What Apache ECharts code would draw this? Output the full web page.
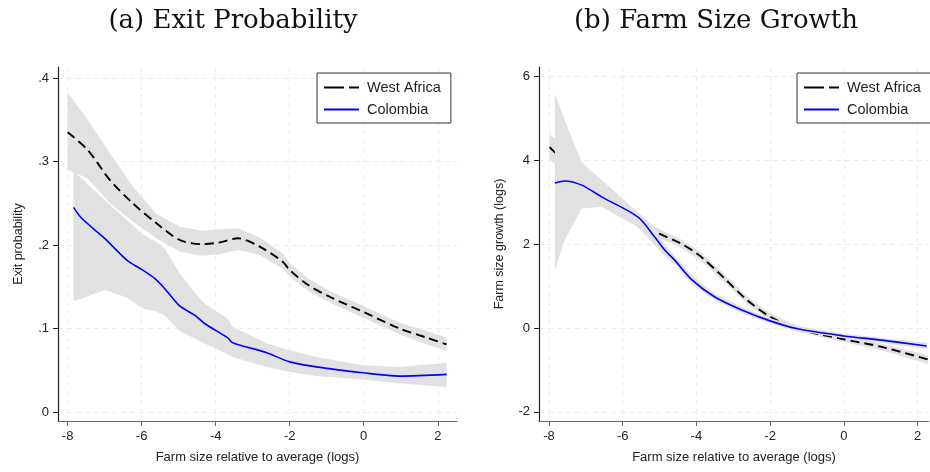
<!DOCTYPE html>
<html>
<head>
<meta charset="utf-8">
<script src="https://cdn.jsdelivr.net/npm/echarts@6/dist/echarts.min.js"></script>
<style>
  html, body { margin: 0; padding: 0; background: #fff; }
  #chart { width: 930px; height: 472px; }
</style>
</head>
<body>
<div id="chart"></div>
<script>
// ticks
const xTicks = [-8, -6, -4, -2, 0, 2]
const exitTicks = [0, 0.1, 0.2, 0.3, 0.4]
const exitTickLabels = ['0', '.1', '.2', '.3', '.4']
const growthTicks = [-2, 0, 2, 4, 6]

// (a) exit probability - West Africa
const exitWaX = [-8.0, -7.46, -6.86, -6.24, -5.6, -4.97, -4.35, -3.9, -3.4, -2.81, -2.19, -2.0, -1.5, -0.92, 0.08, 0.97, 1.7, 2.24]
const exitWaY = [0.335, 0.314, 0.278, 0.250, 0.226, 0.206, 0.201, 0.203, 0.208, 0.198, 0.180, 0.170, 0.152, 0.138, 0.118, 0.100, 0.089, 0.081]
const exitWaHi = [0.383, 0.350, 0.310, 0.270, 0.237, 0.222, 0.217, 0.219, 0.220, 0.209, 0.190, 0.178, 0.160, 0.145, 0.125, 0.107, 0.097, 0.089]
const exitWaLo = [0.290, 0.280, 0.250, 0.228, 0.208, 0.192, 0.187, 0.189, 0.194, 0.188, 0.172, 0.162, 0.145, 0.131, 0.111, 0.093, 0.081, 0.073]

// (a) exit probability - Colombia
const exitCoX = [-7.84, -7.62, -7.0, -6.4, -5.97, -5.65, -5.38, -4.97, -4.57, -4.3, -3.68, -3.54, -2.62, -2.0, -1.27, -0.03, 0.97, 2.24]
const exitCoY = [0.245, 0.232, 0.208, 0.182, 0.170, 0.160, 0.148, 0.127, 0.116, 0.106, 0.089, 0.083, 0.071, 0.060, 0.054, 0.047, 0.043, 0.045]
const exitCoHi = [0.288, 0.280, 0.254, 0.230, 0.213, 0.205, 0.196, 0.166, 0.143, 0.130, 0.112, 0.102, 0.082, 0.074, 0.066, 0.056, 0.054, 0.059]
const exitCoLo = [0.133, 0.136, 0.146, 0.137, 0.124, 0.121, 0.116, 0.097, 0.088, 0.082, 0.069, 0.066, 0.054, 0.048, 0.043, 0.039, 0.034, 0.030]

// (b) farm size growth - West Africa
const growWaX = [-7.98, -7.87, -7.5, -7.0, -6.5, -6.0, -5.5, -5.05, -4.45, -3.93, -3.28, -2.63, -2.0, -1.25, 0, 1.02, 2.28]
const growWaY = [4.32, 4.22, 3.95, 3.6, 3.2, 2.85, 2.5, 2.27, 2.03, 1.74, 1.22, 0.67, 0.27, -0.02, -0.27, -0.45, -0.75]
const growWaHi = [4.62, 4.55, 4.2, 3.8, 3.4, 3.0, 2.62, 2.38, 2.13, 1.84, 1.32, 0.76, 0.35, 0.05, -0.20, -0.37, -0.65]
const growWaLo = [4.02, 3.95, 3.7, 3.4, 3.0, 2.7, 2.38, 2.16, 1.93, 1.64, 1.12, 0.58, 0.19, -0.09, -0.34, -0.53, -0.86]

// (b) farm size growth - Colombia
const growCoX = [-7.84, -7.57, -7.11, -6.57, -5.59, -5.13, -4.86, -4.59, -4.12, -3.5, -2.77, -2.0, -1.25, 0, 1.02, 2.25]
const growCoY = [3.46, 3.51, 3.41, 3.13, 2.65, 2.17, 1.86, 1.62, 1.15, 0.74, 0.43, 0.17, -0.02, -0.19, -0.29, -0.43]
const growCoHi = [5.6, 4.96, 3.95, 3.53, 2.77, 2.39, 2.0, 1.72, 1.25, 0.82, 0.5, 0.23, 0.04, -0.14, -0.23, -0.35]
const growCoLo = [1.38, 2.1, 2.85, 2.89, 2.41, 1.98, 1.72, 1.52, 1.05, 0.66, 0.36, 0.11, -0.08, -0.24, -0.35, -0.51]

const sans = 'Liberation Sans'
const bandColor = '#e1e1e1'

const chart = echarts.init(document.getElementById('chart'), null, { renderer: 'canvas' })

function zip(xs, ys) {
  return xs.map((x, i) => [x, ys[i]])
}

function band(name, xs, lo, hi, idx, z) {
  const data = xs.map((x, i) => [x, lo[i], hi[i]])
  return {
    type: 'custom',
    name: name,
    xAxisIndex: idx,
    yAxisIndex: idx,
    z: z,
    silent: true,
    data: data,
    encode: { x: 0, y: [1, 2] },
    renderItem: function(params, api) {
      if (params.dataIndex !== 0) return null
      const pts = []
      data.forEach(d => pts.push(api.coord([d[0], d[2]])))
      for (let i = data.length - 1; i >= 0; i--) pts.push(api.coord([data[i][0], data[i][1]]))
      return { type: 'polygon', shape: { points: pts }, style: { fill: bandColor } }
    }
  }
}

function line(name, xs, ys, idx, z, color, dash) {
  return {
    type: 'line',
    name: name,
    xAxisIndex: idx,
    yAxisIndex: idx,
    z: z,
    data: zip(xs, ys),
    symbol: 'none',
    smooth: 0.3,
    silent: true,
    itemStyle: { color: color },
    lineStyle: { color: color, width: dash ? 1.9 : 1.6, type: dash || 'solid' }
  }
}

function xAxis(idx, min, max) {
  return {
    gridIndex: idx,
    type: 'value',
    min: min,
    max: max,
    name: 'Farm size relative to average (logs)',
    nameLocation: 'middle',
    nameGap: 30,
    nameTextStyle: { fontFamily: sans, fontSize: 13, color: '#222' },
    axisLine: { show: true, onZero: false, lineStyle: { color: '#666', width: 1.2 } },
    axisTick: { show: true, customValues: xTicks, length: 5, lineStyle: { color: '#666' } },
    axisLabel: { customValues: xTicks, margin: 9, fontFamily: sans, fontSize: 13, color: '#222' },
    splitLine: { show: true, lineStyle: { color: '#ececec', width: 1, type: [5, 4] } }
  }
}

function yAxis(idx, min, max, ticks, labels, name, gap) {
  return {
    gridIndex: idx,
    type: 'value',
    min: min,
    max: max,
    name: name,
    nameLocation: 'middle',
    nameGap: gap,
    nameRotate: 90,
    nameTextStyle: { fontFamily: sans, fontSize: 12.5, color: '#222' },
    axisLine: { show: true, onZero: false, lineStyle: { color: '#222', width: 1.2 } },
    axisTick: { show: true, customValues: ticks, length: 5, lineStyle: { color: '#222' } },
    axisLabel: {
      customValues: ticks,
      margin: 9,
      fontFamily: sans,
      fontSize: 13,
      color: '#222',
      formatter: function(v) {
        const i = ticks.findIndex(t => Math.abs(t - v) < 1e-9)
        return i >= 0 ? labels[i] : ''
      }
    },
    splitLine: { show: true, lineStyle: { color: '#ececec', width: 1, type: [5, 4] } }
  }
}

function legend(left) {
  return {
    left: left,
    top: 73,
    orient: 'vertical',
    backgroundColor: '#fff',
    borderColor: '#333',
    borderWidth: 1,
    borderRadius: 0,
    padding: [7, 10, 6, 6],
    itemGap: 7,
    itemWidth: 35,
    itemHeight: 14,
    selectedMode: false,
    itemStyle: { opacity: 0 },
    textStyle: { fontFamily: sans, fontSize: 14.5, color: '#222', padding: [0, 0, 0, 3] },
    data: [
      { name: 'West Africa', lineStyle: { type: [20, 5] } },
      { name: 'Colombia' }
    ]
  }
}

chart.setOption({
  animation: false,
  backgroundColor: '#fff',
  graphic: [
    { type: 'text', x: 233, y: 21, style: { text: '(a) Exit Probability', font: '26px "DejaVu Serif"', fill: '#111', textAlign: 'center', textVerticalAlign: 'middle' } },
    { type: 'text', x: 716, y: 21, style: { text: '(b) Farm Size Growth', font: '26px "DejaVu Serif"', fill: '#111', textAlign: 'center', textVerticalAlign: 'middle' } }
  ],
  legend: [legend(317), legend(797)],
  grid: [
    { left: 58, top: 67, width: 399, height: 354 },
    { left: 539, top: 67, width: 390, height: 354 }
  ],
  xAxis: [xAxis(0, -8.26, 2.52), xAxis(1, -8.27, 2.31)],
  yAxis: [
    yAxis(0, -0.0108, 0.4132, exitTicks, exitTickLabels, 'Exit probability', 33),
    yAxis(1, -2.22, 6.23, growthTicks, growthTicks.map(String), 'Farm size growth (logs)', 33)
  ],
  series: [
    band('West Africa CI a', exitWaX, exitWaLo, exitWaHi, 0, 1),
    line('West Africa', exitWaX, exitWaY, 0, 2, '#000', [9, 5]),
    band('Colombia CI a', exitCoX, exitCoLo, exitCoHi, 0, 3),
    line('Colombia', exitCoX, exitCoY, 0, 4, '#0000ff', null),
    band('West Africa CI b', growWaX, growWaLo, growWaHi, 1, 1),
    line('West Africa', growWaX, growWaY, 1, 2, '#000', [9, 5]),
    band('Colombia CI b', growCoX, growCoLo, growCoHi, 1, 3),
    line('Colombia', growCoX, growCoY, 1, 4, '#0000ff', null)
  ]
})
</script>
</body>
</html>
